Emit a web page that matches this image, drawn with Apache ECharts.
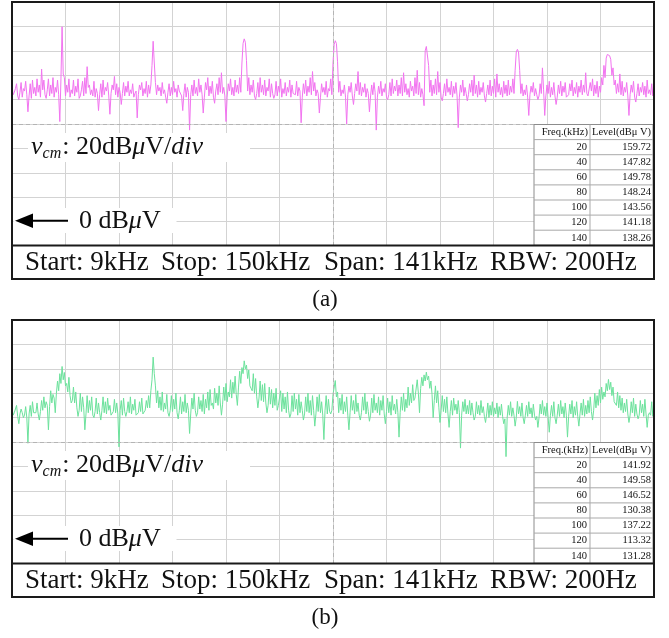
<!DOCTYPE html>
<html><head><meta charset="utf-8">
<script src="https://cdn.jsdelivr.net/npm/echarts@6/dist/echarts.min.js"></script>
<style>html,body{margin:0;padding:0;background:#fff}#c{width:669px;height:638px}</style>
</head><body><div id="c"></div>
<script>
// ---------- DATA ----------
const FREQ_KHZ = [
9,9.25,9.5,9.75,10,10.25,10.5,10.75,11,11.25,11.5,11.75,12,12.25,12.5,12.75,13,13.25,13.5,13.75,
14,14.25,14.5,14.75,15,15.25,15.5,15.75,16,16.25,16.5,16.75,17,17.25,17.5,17.75,18,18.25,18.5,18.75,
19,19.25,19.5,19.75,20,20.25,20.5,20.75,21,21.25,21.5,21.75,22,22.25,22.5,22.75,23,23.25,23.5,23.75,
24,24.25,24.5,24.75,25,25.25,25.5,25.75,26,26.25,26.5,26.75,27,27.25,27.5,27.75,28,28.25,28.5,28.75,
29,29.25,29.5,29.75,30,30.25,30.5,30.75,31,31.25,31.5,31.75,32,32.25,32.5,32.75,33,33.25,33.5,33.75,
34,34.25,34.5,34.75,35,35.25,35.5,35.75,36,36.25,36.5,36.75,37,37.25,37.5,37.75,38,38.25,38.5,38.75,
39,39.25,39.5,39.75,40,40.25,40.5,40.75,41,41.25,41.5,41.75,42,42.25,42.5,42.75,43,43.25,43.5,43.75,
44,44.25,44.5,44.75,45,45.25,45.5,45.75,46,46.25,46.5,46.75,47,47.25,47.5,47.75,48,48.25,48.5,48.75,
49,49.25,49.5,49.75,50,50.25,50.5,50.75,51,51.25,51.5,51.75,52,52.25,52.5,52.75,53,53.25,53.5,53.75,
54,54.25,54.5,54.75,55,55.25,55.5,55.75,56,56.25,56.5,56.75,57,57.25,57.5,57.75,58,58.25,58.5,58.75,
59,59.25,59.5,59.75,60,60.25,60.5,60.75,61,61.25,61.5,61.75,62,62.25,62.5,62.75,63,63.25,63.5,63.75,
64,64.25,64.5,64.75,65,65.25,65.5,65.75,66,66.25,66.5,66.75,67,67.25,67.5,67.75,68,68.25,68.5,68.75,
69,69.25,69.5,69.75,70,70.25,70.5,70.75,71,71.25,71.5,71.75,72,72.25,72.5,72.75,73,73.25,73.5,73.75,
74,74.25,74.5,74.75,75,75.25,75.5,75.75,76,76.25,76.5,76.75,77,77.25,77.5,77.75,78,78.25,78.5,78.75,
79,79.25,79.5,79.75,80,80.25,80.5,80.75,81,81.25,81.5,81.75,82,82.25,82.5,82.75,83,83.25,83.5,83.75,
84,84.25,84.5,84.75,85,85.25,85.5,85.75,86,86.25,86.5,86.75,87,87.25,87.5,87.75,88,88.25,88.5,88.75,
89,89.25,89.5,89.75,90,90.25,90.5,90.75,91,91.25,91.5,91.75,92,92.25,92.5,92.75,93,93.25,93.5,93.75,
94,94.25,94.5,94.75,95,95.25,95.5,95.75,96,96.25,96.5,96.75,97,97.25,97.5,97.75,98,98.25,98.5,98.75,
99,99.25,99.5,99.75,100,100.25,100.5,100.75,101,101.25,101.5,101.75,102,102.25,102.5,102.75,103,103.25,103.5,103.75,
104,104.25,104.5,104.75,105,105.25,105.5,105.75,106,106.25,106.5,106.75,107,107.25,107.5,107.75,108,108.25,108.5,108.75,
109,109.25,109.5,109.75,110,110.25,110.5,110.75,111,111.25,111.5,111.75,112,112.25,112.5,112.75,113,113.25,113.5,113.75,
114,114.25,114.5,114.75,115,115.25,115.5,115.75,116,116.25,116.5,116.75,117,117.25,117.5,117.75,118,118.25,118.5,118.75,
119,119.25,119.5,119.75,120,120.25,120.5,120.75,121,121.25,121.5,121.75,122,122.25,122.5,122.75,123,123.25,123.5,123.75,
124,124.25,124.5,124.75,125,125.25,125.5,125.75,126,126.25,126.5,126.75,127,127.25,127.5,127.75,128,128.25,128.5,128.75,
129,129.25,129.5,129.75,130,130.25,130.5,130.75,131,131.25,131.5,131.75,132,132.25,132.5,132.75,133,133.25,133.5,133.75,
134,134.25,134.5,134.75,135,135.25,135.5,135.75,136,136.25,136.5,136.75,137,137.25,137.5,137.75,138,138.25,138.5,138.75,
139,139.25,139.5,139.75,140,140.25,140.5,140.75,141,141.25,141.5,141.75,142,142.25,142.5,142.75,143,143.25,143.5,143.75,
144,144.25,144.5,144.75,145,145.25,145.5,145.75,146,146.25,146.5,146.75,147,147.25,147.5,147.75,148,148.25,148.5,148.75,
149,149.25,149.5,149.75,150];

// (a) level in dBuV
const LEVEL_A = [
111,104,106,109,113,103,100,106,114,102,109,107,115,104,90,103,113,101,116,105,
110,103,117,106,112,102,125,108,116,104,101,108,117,103,112,105,118,102,110,106,
116,104,82,117,159.72,121,118,103,112,106,117,102,108,105,116,103,111,106,117,101,
103,108,115,103,118,105,127,110,112,104,108,103,115,102,109,105,91,104,113,102,
116,104,110,107,114,103,88,105,112,108,119,104,113,102,110,106,96,105,114,103,
111,106,115,103,108,105,113,102,105,107,85,104,112,108,114,103,109,105,115,102,
112,105,112,128,147.82,130,114,104,112,107,110,103,114,105,108,102,97,106,113,103,
110,104,115,106,109,102,112,107,106,103,91,105,113,102,110,106,75,104,112,103,
116,105,110,103,117,106,112,104,89,102,114,108,118,103,111,105,115,102,97,107,
113,104,118,106,122,105,110,103,82,102,113,107,117,104,110,103,116,106,112,105,
118,106,130,146,149.78,147,132,107,118,104,112,106,116,103,100,105,114,102,118,106,
112,104,116,103,110,107,117,102,113,105,101,104,115,103,111,106,117,102,109,105,
114,103,110,106,116,102,112,105,106,104,115,103,110,107,81,102,113,105,116,103,
111,106,118,104,123,107,114,103,108,105,89,102,113,106,110,104,115,102,109,107,
117,104,130,145,148.24,146,131,106,115,103,108,105,112,102,80,104,111,106,114,103,
96,105,113,107,123,104,114,103,110,106,113,102,109,105,90,103,112,104,114,106,
75,102,111,105,115,103,109,106,113,102,100,104,114,103,117,105,111,107,116,103,
112,105,118,103,122,106,113,104,109,102,115,107,111,103,118,105,124,104,114,102,
109,104,95,140,143.56,142,128,106,116,103,112,105,117,104,123,106,114,102,99,105,
113,103,117,106,110,104,115,102,111,105,114,103,77,102,112,106,116,103,110,105,
99,104,113,106,116,103,120,105,112,102,115,104,110,106,114,103,98,105,112,104,
116,103,111,105,117,102,121,106,113,104,110,102,115,105,112,103,116,104,111,106,
117,105,124,139,141.18,139,124,105,113,103,108,104,112,102,87,104,111,106,114,103,
109,104,100,103,113,105,126,108,87,103,112,105,115,102,110,104,114,103,96,102,
112,105,115,103,111,106,114,102,101,104,113,107,116,103,110,105,114,102,111,106,
116,104,112,106,122,105,103,104,114,107,117,103,112,105,115,102,111,106,118,112,
128,118,134,137,138.26,136,133,120,126,112,116,105,113,106,121,104,115,103,110,106,
114,103,87,104,112,106,115,102,98,105,113,103,110,106,114,104,111,102,116,105,
108,104,113,103,111];

// (b) level in dBuV
const LEVEL_B = [
108,102,104,105,110,101,95,103,107,104,100,102,109,100,79,103,110,101,113,104,
103,104,112,103,98,105,114,106,117,108,113,110,90,109,122,112,119,116,104,120,
130,122,136,128,141.92,131,137,126,128,121,133,118,112,114,125,112,121,108,101,106,
120,105,117,108,90,103,118,104,114,106,117,102,100,105,116,103,112,104,98,106,
117,104,113,103,116,106,110,102,102,105,115,104,112,103,76,106,114,102,116,105,
101,105,113,104,117,103,111,106,115,102,103,104,113,105,116,103,102,106,114,108,
118,108,122,131,149.58,136,126,112,122,108,117,106,121,105,112,107,119,104,101,106,
118,105,115,107,120,104,99,106,117,103,113,105,119,104,112,106,87,103,116,107,
120,106,101,104,117,107,114,105,119,103,115,108,121,106,123,110,112,107,124,112,
120,110,126,112,102,111,125,114,128,113,121,117,131,116,129,120,134,119,110,125,
138,128,141,136,146.52,140,143,132,139,126,124,122,136,120,132,117,108,116,130,114,
127,113,128,112,104,110,125,111,123,108,120,110,124,106,110,109,122,105,120,107,
117,104,121,106,100,103,118,105,120,107,115,102,119,104,113,106,98,103,117,105,
120,104,114,102,118,106,93,103,117,105,119,104,113,102,82,106,118,103,115,105,
103,106,119,118,130.38,117,121,104,116,106,119,103,113,105,117,102,90,104,118,106,
114,103,119,105,112,102,98,104,117,106,120,103,113,105,97,102,116,104,119,106,
112,104,117,102,114,106,118,103,95,105,116,104,113,102,118,106,111,103,115,104,
84,104,117,106,120,105,115,108,125,110,120,112,127,114,116,117,131,120,104,124,
133,126,135,130,137.22,131,134,124,130,119,100,114,126,112,122,108,96,106,118,105,
115,104,117,103,92,105,114,102,116,106,111,103,114,104,75,102,113,105,115,103,
110,103,114,102,112,104,98,101,113,103,110,102,114,104,109,101,96,103,112,100,
110,102,113,101,108,103,112,100,109,102,111,101,95,99,68,100,110,102,113,101,
108,102,93,100,113.32,103,109,101,112,100,95,102,110,101,113,103,108,100,111,102,
98,101,92,100,111,103,114,102,109,101,112,100,88,102,110,101,113,100,95,102,
111,101,114,103,109,100,112,102,84,101,111,103,114,100,109,102,113,101,93,103,
112,102,115,101,110,103,114,104,117,105,98,106,120,108,118,110,123,112,125,115,
121,117,128,122,131.28,123,129,118,125,113,112,110,121,108,118,106,116,104,112,105,
115,103,96,102,113,104,116,101,111,103,99,102,114,104,111,101,115,103,92,102,
104,102,113,101,110];

const TABLE_FREQ = [20,40,60,80,100,120,140];
const TABLE_LEVEL_A = [159.72,147.82,149.78,148.24,143.56,141.18,138.26];
const TABLE_LEVEL_B = [141.92,149.58,146.52,130.38,137.22,113.32,131.28];
const TABLE_HEAD = ['Freq.(kHz)','Level(dBμ V)'];
const STRIP_LABELS = ['Start: 9kHz','Stop: 150kHz','Span: 141kHz','RBW: 200Hz'];
const PANEL_LABELS = ['(a)','(b)'];

// ---------- LAYOUT ----------
const SERIF = '"Liberation Serif","Times New Roman",serif';
const L = 12, W = 642, GH = 244;
const TOPS = [2, 320];
const FRAME_H = 277;
const STRIP_Y = 243.5;
const GRIDC = '#d3d3d3';
const COLORS = ['#f274f0', '#6ce29c'];

const mctx = document.createElement('canvas').getContext('2d');
function measure(t, font){ mctx.font = font; return mctx.measureText(t).width; }
function txt(x, y, t, font, align, z){
  return {type:'text', z: z||60, x:x, y:y,
    style:{text:t, font:font, fill:'#111', align:align||'left', verticalAlign:'middle',
           textAlign:align||'left', textVerticalAlign:'middle'}};
}
function runs(x, y, parts){
  let cx = x; const out = [];
  parts.forEach(p => {
    const font = (p.it ? 'italic ' : '') + p.s + 'px ' + SERIF;
    out.push(txt(cx, y + (p.dy||0), p.t, font, 'left'));
    cx += measure(p.t, font) + (p.gap||0);
  });
  return out;
}

const gfx = [];
TOPS.forEach((top, pi) => {
  const levels = pi === 0 ? TABLE_LEVEL_A : TABLE_LEVEL_B;
  gfx.push({type:'rect', z:50, shape:{x:28, y:top+131, width:222, height:29}, style:{fill:'#fff'}});
  gfx.push({type:'rect', z:50, shape:{x:13.5, y:top+206, width:163, height:25}, style:{fill:'#fff'}});
  runs(31, top+145, [
    {t:'v', it:1, s:26}, {t:'cm', it:1, s:16, dy:7, gap:1}, {t:': 20dB', s:26},
    {t:'μ', it:1, s:26}, {t:'V/', s:26}, {t:'div', it:1, s:26}
  ]).forEach(e => gfx.push(e));
  gfx.push({type:'line', z:60, shape:{x1:30, y1:top+218.7, x2:68, y2:top+218.7}, style:{stroke:'#000', lineWidth:2}});
  gfx.push({type:'polygon', z:60, shape:{points:[[15, top+218.7],[33, top+211.5],[33, top+226]]}, style:{fill:'#000'}});
  runs(79, top+219.5, [{t:'0 dB', s:26}, {t:'μ', it:1, s:26}, {t:'V', s:26}]).forEach(e => gfx.push(e));
  // table
  const tx0 = 534, tx1 = 590, tx2 = 653, ty0 = top + 122.5, rh = 15.1;
  gfx.push({type:'rect', z:55, shape:{x:tx0, y:ty0, width:tx2-tx0, height:8*rh}, style:{fill:'#fff', stroke:'#8c8c8c', lineWidth:1}});
  for (let k = 1; k < 8; k++) {
    gfx.push({type:'line', z:56, shape:{x1:tx0, y1:ty0+k*rh, x2:tx2, y2:ty0+k*rh}, style:{stroke:'#a9a9a9', lineWidth:1}});
  }
  gfx.push({type:'line', z:56, shape:{x1:tx1, y1:ty0, x2:tx1, y2:ty0+8*rh}, style:{stroke:'#a9a9a9', lineWidth:1}});
  const tf = '10.5px ' + SERIF;
  gfx.push(txt(tx1-2, ty0+rh/2, TABLE_HEAD[0], tf, 'right'));
  gfx.push(txt(tx2-2, ty0+rh/2, TABLE_HEAD[1], tf, 'right'));
  TABLE_FREQ.forEach((f, i) => {
    const cy = ty0 + (i+1)*rh + rh/2;
    gfx.push(txt(tx1-3, cy, String(f), tf, 'right'));
    gfx.push(txt(tx2-2, cy, levels[i].toFixed(2), tf, 'right'));
  });
  // bottom strip
  gfx.push({type:'rect', z:58, shape:{x:L, y:top+STRIP_Y, width:W, height:FRAME_H-STRIP_Y}, style:{fill:'#fff'}});
  gfx.push({type:'line', z:59, shape:{x1:L, y1:top+STRIP_Y, x2:L+W, y2:top+STRIP_Y}, style:{stroke:'#1a1a1a', lineWidth:2}});
  const sx = [25, 161, 324, 490];
  STRIP_LABELS.forEach((s, i) => gfx.push(txt(sx[i], top+260.5, s, '27px ' + SERIF, 'left')));
  gfx.push({type:'rect', z:70, shape:{x:L, y:top, width:W, height:FRAME_H}, style:{fill:null, stroke:'#1a1a1a', lineWidth:2}});
  gfx.push(txt(325, top+298, PANEL_LABELS[pi], '23px ' + SERIF, 'center'));
});

const hidden = {axisLine:{show:false}, axisTick:{show:false}, axisLabel:{show:false}};
const xAxes = [], yAxes = [], series = [];
TOPS.forEach((top, pi) => {
  xAxes.push({gridIndex:pi, type:'value', min:9, max:150, show:false});
  xAxes.push(Object.assign({gridIndex:pi, type:'value', min:0, max:12, interval:1,
    splitLine:{show:true, lineStyle:{color:GRIDC, width:1}}}, hidden));
  yAxes.push(Object.assign({gridIndex:pi, type:'value', min:-20, max:180, interval:20,
    splitLine:{show:true, lineStyle:{color:GRIDC, width:1}}}, hidden));
  const lv = pi === 0 ? LEVEL_A : LEVEL_B;
  series.push({
    type:'line', xAxisIndex:pi*2, yAxisIndex:pi, silent:true, showSymbol:false,
    data: FREQ_KHZ.map((f, i) => [f, lv[i]]),
    lineStyle:{width:1, color:COLORS[pi]}, itemStyle:{color:COLORS[pi]},
    markLine:{silent:true, symbol:'none', label:{show:false},
      lineStyle:{color:'#b4b4b4', type:[4,3], width:1},
      data:[{xAxis:79.5},{yAxis:80}]}
  });
});

const chart = echarts.init(document.getElementById('c'), null, {renderer:'canvas'});
chart.setOption({
  animation:false,
  backgroundColor:'#fff',
  grid: TOPS.map(t => ({left:L, top:t, width:W, height:GH})),
  xAxis: xAxes, yAxis: yAxes, series: series,
  graphic: {elements: gfx}
});
</script>
</body></html>
